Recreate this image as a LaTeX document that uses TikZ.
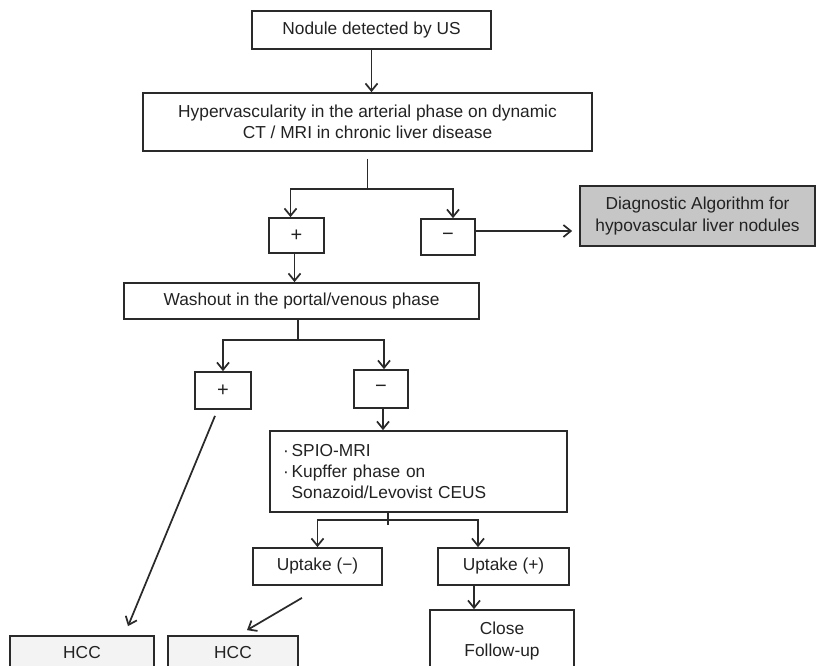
\documentclass[tikz,border=0pt]{standalone}
\usepackage{fontspec}
\setmainfont{Liberation Sans}
\usetikzlibrary{calc, arrows.meta}

\begin{document}
\begin{tikzpicture}[x=0.75pt, y=-0.75pt,
		box/.style={draw=linecol, line width=1.3pt, text=textcol, inner sep=0pt, align=center,
			font=\fontsize{13}{16}\selectfont},
		sign/.style={box, font=\fontsize{15}{16}\selectfont},
		line/.style={draw=linecol, line width=1.3pt},
		arr/.style={line, -{Straight Barb[length=5.5pt, width=9pt]}}]
		
		\definecolor{linecol}{HTML}{2A2A2A}
		\definecolor{textcol}{HTML}{222222}
		\definecolor{greybox}{HTML}{C6C6C6}
		\definecolor{hccfill}{HTML}{F3F3F3}
		
		\useasboundingbox (0,0) rectangle (817,665);
		\clip (0,0) rectangle (817,665);
		
		% First checks
		\node[box, minimum width=179.25pt, minimum height=28.5pt] (us) at (371.5, 30) {Nodule detected by US};
		\node[box, minimum width=336.75pt, minimum height=43.5pt] (hyper) at (367.5, 122)
		{Hypervascularity in the arterial phase on dynamic\\CT / MRI in chronic liver disease};
		\node[sign, minimum width=41.25pt, minimum height=26.25pt] (pos1) at (296.5, 235.5) {+};
		\node[sign, minimum width=40.5pt, minimum height=27pt] (neg1) at (448, 237) {−};
		\node[box, fill=greybox, minimum width=176.25pt, minimum height=45pt] (hypo) at (697.5, 216)
		{Diagnostic Algorithm for\\hypovascular liver nodules};
		
		% Washout
		\node[box, minimum width=266.25pt, minimum height=27pt] (wash) at (301.5, 301) {Washout in the portal/venous phase};
		\node[sign, minimum width=42pt, minimum height=27.75pt] (pos2) at (223, 390.5) {+};
		\node[sign, minimum width=40.5pt, minimum height=28.5pt] (neg2) at (381, 389) {−};
		
		% Kupffer imaging
		\node[box, align=left, text width=203.25pt, inner xsep=9.75pt, minimum height=60.75pt] (spio) at (418.5, 471.5)
		{·\,SPIO-MRI\\·\,Kupffer phase on\\\phantom{·\,}Sonazoid/Levovist CEUS};
		\node[box, minimum width=96.75pt, minimum height=27.75pt] (upneg) at (317.5, 566.5) {Uptake (−)};
		\node[box, minimum width=98.25pt, minimum height=27.75pt] (uppos) at (503.5, 566.5) {Uptake (+)};
		
		% Results
		\node[box, fill=hccfill, minimum width=108pt, minimum height=25.5pt] (hcca) at (82, 653) {HCC};
		\node[box, fill=hccfill, minimum width=97.5pt, minimum height=25.5pt] (hccb) at (233, 653) {HCC};
		\node[box, minimum width=108pt, minimum height=46.5pt] (close) at (502, 641) {Close\\Follow-up};
		
		% Connectors
		\draw[arr] (us.south) -- (us.south |- hyper.north);
		\draw[line] ($(hyper.south)+(0,7)$) -- ++(0,30) coordinate (j1);
		\draw[arr] (j1) -| ($(pos1.north)+(-6,0)$);
		\draw[arr] (j1) -| ($(neg1.north)+(5,0)$);
		\draw[arr] ($(neg1.east)+(0,-6)$) coordinate (n1) -- ($(n1 -| hypo.west)+(-7,0)$);
		\draw[arr] ($(pos1.south)+(-2,0)$) coordinate (p1) -- (p1 |- wash.north);
		
		\draw[line] ($(wash.south)+(-3.5,0)$) -- ++(0,20) coordinate (j2);
		\draw[arr] (j2) -| (pos2.north);
		\draw[arr] (j2) -| ($(neg2.north)+(3,0)$);
		\draw[arr] ($(neg2.south)+(2,0)$) coordinate (n2) -- (n2 |- spio.north);
		
		\draw[line] ($(spio.south)+(-30.5,0)$) -- ++(0,12);
		\coordinate (j3) at ($(spio.south)+(-30.5,7)$);
		\draw[arr] (j3) -| (upneg.north);
		\draw[arr] (j3) -| ($(uppos.north)+(-25.5,0)$);
		\draw[arr] ($(uppos.south)+(-29.5,0)$) coordinate (u2) -- (u2 |- close.north);
		
		\draw[arr] ($(pos2.south)+(-8,6)$) -- ($(hcca.north)+(46,-9)$);
		\draw[arr] ($(upneg.south)+(-15.5,12)$) -- ($(hccb.north)+(14,-5)$);
		
	\end{tikzpicture}
\end{document}
